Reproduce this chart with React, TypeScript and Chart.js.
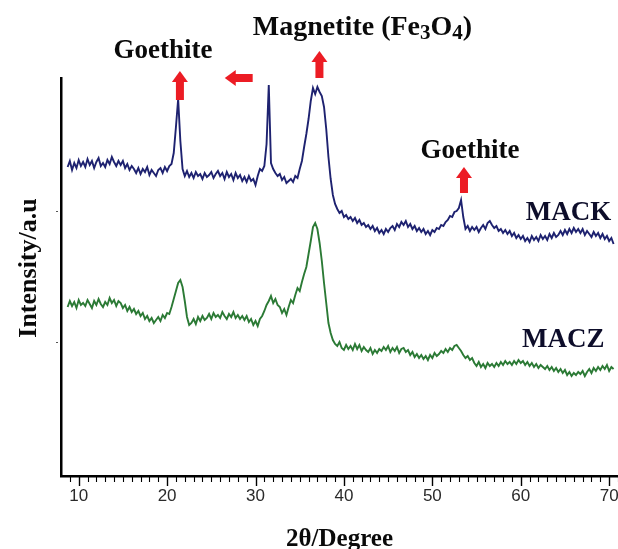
import React, { useEffect, useRef } from "react";
import { Chart, registerables } from "chart.js";

Chart.register(...registerables);

// 2θ scan grid (degrees)
const TWO_THETA_START = 8.75;
const TWO_THETA_STEP = 0.25;

// Intensity (a.u.), one value per grid step
const MACK = [
  312, 318, 309, 316, 311, 319, 313, 317,
  312, 320, 314, 318, 311, 317, 321, 313,
  316, 312, 319, 315, 322, 317, 313, 318,
  314, 318, 311, 315, 309, 313, 310, 306,
  311, 305, 310, 307, 312, 304, 309, 306,
  303, 309, 311, 306, 312, 308, 313, 315,
  326, 352, 380, 338, 310, 303, 308, 302,
  306, 301, 307, 303, 305, 300, 306, 302,
  304, 307, 301, 305, 308, 303, 306, 300,
  307, 302, 305, 299, 306, 301, 304, 298,
  302, 297, 303, 298, 300, 294, 303, 310,
  308, 313, 335, 394, 316, 310, 306, 303,
  305, 299, 302, 296, 298, 300, 297, 303,
  301, 310, 318, 332, 345, 360, 378, 391,
  385, 392, 387, 383, 372, 350, 322, 300,
  284, 275, 270, 266, 268, 262, 264, 260,
  262, 258, 261, 256, 259, 254, 256, 252,
  254, 250, 253, 248, 251, 246, 249, 245,
  250, 247, 251, 253, 249, 255, 252, 257,
  254, 258, 252, 255, 250, 253, 248, 251,
  247, 250, 245, 248, 244, 249, 247, 251,
  250, 254, 253, 257, 259, 263, 262, 267,
  268, 271, 279, 262, 250, 253, 248, 252,
  249, 252, 247, 251, 254, 250, 256, 258,
  254, 251, 253, 248, 250, 246, 249, 245,
  248, 243, 246, 241, 244, 240, 243, 238,
  241, 237, 243, 239, 242, 238, 244, 240,
  243, 239, 245, 241, 246, 242, 244, 248,
  244, 249, 245, 250, 246, 251, 247, 250,
  246, 250, 244, 248, 245, 242, 247, 243,
  246, 241, 245, 240, 243, 238, 241, 235,
];

const MACZ = [
  172, 178, 173, 177, 171, 179, 174, 176,
  173, 179, 175, 171, 178, 174, 180, 175,
  172, 177, 174, 181, 176, 179, 173, 178,
  176, 171, 174, 168, 172, 167, 170, 165,
  168, 163, 166, 160, 163, 158, 161, 156,
  159, 162, 158, 164, 161, 166, 165, 172,
  180, 188, 196, 199, 192, 178, 162, 154,
  156, 160, 155, 162, 158, 163, 159, 161,
  165, 160, 166, 162, 164, 161, 167, 163,
  160, 165, 162, 167, 161, 164, 160, 163,
  159, 163, 157, 160, 154, 158, 153, 160,
  163, 168, 174, 178, 183, 176, 180, 174,
  172, 166, 170, 164, 172, 179, 176, 184,
  191, 188, 197, 205, 212, 225, 238, 252,
  256, 250, 236, 218, 196, 176, 156, 146,
  139, 135, 133, 137, 131, 129, 134, 130,
  133, 129, 135, 130, 134, 128, 132, 129,
  127, 131, 125, 129, 126, 130, 128, 132,
  129, 133, 127, 131, 128, 132, 126, 130,
  131, 127, 129, 124, 127, 122, 125, 121,
  124, 120, 123, 119, 124, 121, 126, 123,
  125, 128, 126, 130, 127, 131, 129, 133,
  134, 131, 128, 124, 121, 123, 119, 121,
  116, 113, 117, 112, 115, 111, 116, 113,
  115, 112, 116, 113, 117, 114, 118, 115,
  117, 114, 118, 115, 119, 116, 118, 114,
  117, 113, 116, 112, 115, 111, 114, 112,
  110, 113, 109, 112, 108, 111, 107, 110,
  106, 109, 104, 107, 103, 106, 104, 107,
  105, 108, 103, 107, 110, 106, 111, 108,
  112, 109, 113, 110, 114, 108, 112, 110,
];

const X_MIN = 8;
const X_MAX = 71;
const X_MAJOR_TICKS = [10, 20, 30, 40, 50, 60, 70];
const X_MINOR_TICKS = [
  9, 11, 12, 13, 14, 15, 16, 17, 18, 19, 21, 22, 23, 24, 25, 26, 27, 28, 29,
  31, 32, 33, 34, 35, 36, 37, 38, 39, 41, 42, 43, 44, 45, 46, 47, 48, 49,
  51, 52, 53, 54, 55, 56, 57, 58, 59, 61, 62, 63, 64, 65, 66, 67, 68, 69, 71,
];
const Y_MIN = 3;
const Y_MAX = 401;
const Y_TICKS = [137, 268];

// Annotations (in data units: 2θ, intensity)
const PEAK_LABELS = [
  { text: "Goethite", x: 19.53, y: 421 },
  { text: "Goethite", x: 54.25, y: 321 },
];
const SERIES_LABELS = [
  { text: "MACK", x: 65.4, y: 259 },
  { text: "MACZ", x: 64.8, y: 132 },
];
const MAGNETITE_LABEL = { x: 42.1, y: 444 };
const UP_ARROWS = [
  { x: 21.45, from: 379, to: 408 },
  { x: 37.23, from: 401, to: 428 },
  { x: 53.58, from: 286, to: 312 },
];
const LEFT_ARROWS = [{ y: 401, from: 29.68, to: 26.52 }];

const SERIF = "'Liberation Serif', 'Times New Roman', serif";

function toPoints(values: number[]) {
  return values.map((v, i) => ({ x: TWO_THETA_START + i * TWO_THETA_STEP, y: v }));
}

const overlayPlugin = {
  id: "overlay",
  afterDraw(chart: any) {
    const { ctx, chartArea, scales } = chart;
    const xs = scales.x;
    const ys = scales.y;
    ctx.save();

    // x ticks (major + minor)
    ctx.strokeStyle = "#000";
    ctx.lineWidth = 1.4;
    const b = chartArea.bottom + 1;
    X_MAJOR_TICKS.forEach((v) => {
      const px = Math.round(xs.getPixelForValue(v)) + 0.5;
      ctx.beginPath();
      ctx.moveTo(px, b);
      ctx.lineTo(px, b + 9);
      ctx.stroke();
    });
    ctx.lineWidth = 1.1;
    X_MINOR_TICKS.forEach((v) => {
      const px = Math.round(xs.getPixelForValue(v)) + 0.5;
      ctx.beginPath();
      ctx.moveTo(px, b);
      ctx.lineTo(px, b + 5);
      ctx.stroke();
    });

    // tiny y ticks
    ctx.strokeStyle = "#555";
    ctx.lineWidth = 1;
    Y_TICKS.forEach((v) => {
      const py = Math.round(ys.getPixelForValue(v)) + 0.5;
      ctx.beginPath();
      ctx.moveTo(chartArea.left - 5, py);
      ctx.lineTo(chartArea.left - 3, py);
      ctx.stroke();
    });

    // arrows
    ctx.fillStyle = "#ec1c24";
    UP_ARROWS.forEach((a) => {
      const cx = xs.getPixelForValue(a.x);
      const y0 = ys.getPixelForValue(a.from);
      const y1 = ys.getPixelForValue(a.to);
      const head = 11;
      ctx.fillRect(cx - 4, y1 + head - 1, 8, y0 - y1 - head + 1);
      ctx.beginPath();
      ctx.moveTo(cx - 8, y1 + head);
      ctx.lineTo(cx + 8, y1 + head);
      ctx.lineTo(cx, y1);
      ctx.closePath();
      ctx.fill();
    });
    LEFT_ARROWS.forEach((a) => {
      const cy = ys.getPixelForValue(a.y);
      const x0 = xs.getPixelForValue(a.from);
      const x1 = xs.getPixelForValue(a.to);
      const head = 11;
      ctx.fillRect(x1 + head - 1, cy - 4, x0 - x1 - head + 1, 8);
      ctx.beginPath();
      ctx.moveTo(x1 + head, cy - 8);
      ctx.lineTo(x1 + head, cy + 8);
      ctx.lineTo(x1, cy);
      ctx.closePath();
      ctx.fill();
    });

    // text labels
    ctx.fillStyle = "#0a0a0a";
    ctx.textBaseline = "alphabetic";
    ctx.textAlign = "center";
    ctx.font = `bold 27px ${SERIF}`;
    PEAK_LABELS.forEach((l) => {
      ctx.fillText(l.text, xs.getPixelForValue(l.x), ys.getPixelForValue(l.y));
    });
    ctx.fillStyle = "#0d0d2a";
    ctx.font = `bold 27px ${SERIF}`;
    SERIES_LABELS.forEach((l) => {
      ctx.fillText(l.text, xs.getPixelForValue(l.x), ys.getPixelForValue(l.y));
    });

    // Magnetite (Fe3O4) with subscripts
    ctx.fillStyle = "#0a0a0a";
    const parts = [
      { t: "Magnetite (Fe", sub: false },
      { t: "3", sub: true },
      { t: "O", sub: false },
      { t: "4", sub: true },
      { t: ")", sub: false },
    ];
    const mainFont = `bold 28px ${SERIF}`;
    const subFont = `bold 21px ${SERIF}`;
    let total = 0;
    parts.forEach((p) => {
      ctx.font = p.sub ? subFont : mainFont;
      total += ctx.measureText(p.t).width;
    });
    let cx = xs.getPixelForValue(MAGNETITE_LABEL.x) - total / 2;
    const by = ys.getPixelForValue(MAGNETITE_LABEL.y);
    ctx.textAlign = "left";
    parts.forEach((p) => {
      ctx.font = p.sub ? subFont : mainFont;
      ctx.fillText(p.t, cx, p.sub ? by + 4 : by);
      cx += ctx.measureText(p.t).width;
    });

    // axis titles
    ctx.textAlign = "center";
    ctx.textBaseline = "middle";
    ctx.font = `bold 25px ${SERIF}`;
    ctx.fillText("2θ/Degree", (chartArea.left + chartArea.right) / 2, chartArea.bottom + 64);
    ctx.save();
    ctx.translate(29, (chartArea.top + chartArea.bottom) / 2 - 9);
    ctx.rotate(-Math.PI / 2);
    ctx.font = `bold 26px ${SERIF}`;
    ctx.fillText("Intensity/a.u", 0, 0);
    ctx.restore();

    ctx.restore();
  },
};

export default function App() {
  const canvasRef = useRef<HTMLCanvasElement | null>(null);

  useEffect(() => {
    const canvas = canvasRef.current;
    if (!canvas) return;
    const chart = new Chart(canvas, {
      type: "line",
      data: {
        datasets: [
          {
            label: "MACK",
            data: toPoints(MACK),
            borderColor: "#1e2270",
            borderWidth: 1.9,
            pointRadius: 0,
            tension: 0,
            fill: false,
          },
          {
            label: "MACZ",
            data: toPoints(MACZ),
            borderColor: "#2b7a35",
            borderWidth: 1.9,
            pointRadius: 0,
            tension: 0,
            fill: false,
          },
        ],
      },
      options: {
        responsive: false,
        animation: false,
        events: [],
        layout: { padding: { top: 78, right: 0, left: 0, bottom: 0 } },
        plugins: {
          legend: { display: false },
          tooltip: { enabled: false },
          title: { display: false },
        },
        scales: {
          x: {
            type: "linear",
            min: X_MIN,
            max: X_MAX,
            afterBuildTicks: (scale: any) => {
              scale.ticks = X_MAJOR_TICKS.map((v) => ({ value: v }));
            },
            afterFit: (scale: any) => {
              scale.height = 73;
              scale.paddingLeft = 0;
              scale.paddingRight = 0;
            },
            grid: { display: false, drawTicks: false },
            border: { display: true, color: "#000", width: 2.5 },
            ticks: {
              autoSkip: false,
              maxRotation: 0,
              padding: 10,
              color: "#2a2a2a",
              font: {
                family: "'Liberation Sans', Arial, sans-serif",
                size: 17,
              },
              callback: (v: any) => String(v),
            },
          },
          y: {
            type: "linear",
            min: Y_MIN,
            max: Y_MAX,
            afterFit: (scale: any) => {
              scale.width = 61;
              scale.paddingTop = 0;
              scale.paddingBottom = 0;
            },
            grid: { display: false, drawTicks: false },
            border: { display: true, color: "#000", width: 2.5 },
            ticks: { display: false },
          },
        },
      },
      plugins: [overlayPlugin],
    });
    return () => chart.destroy();
  }, []);

  return (
    <div style={{ position: "absolute", left: 0, top: 0, width: 618, height: 549, background: "#fff" }}>
      <canvas ref={canvasRef} width={618} height={549} style={{ display: "block" }} />
    </div>
  );
}
